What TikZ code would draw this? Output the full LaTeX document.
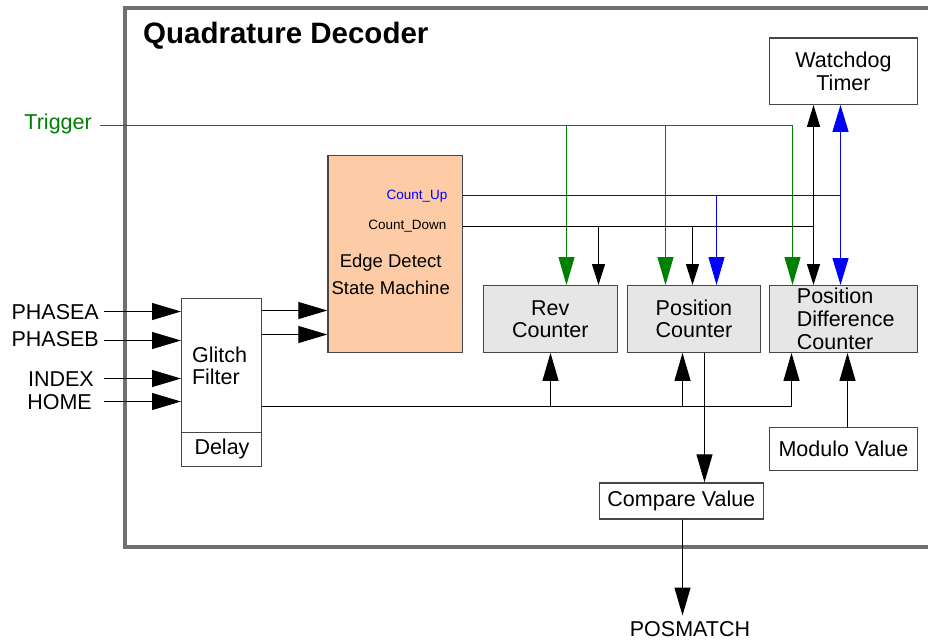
\documentclass[tikz,border=0pt]{standalone}
\usepackage{fontspec}
\setmainfont{Liberation Sans}
\usetikzlibrary{arrows.meta}
\definecolor{framegray}{RGB}{112,112,112}
\definecolor{trig}{RGB}{0,128,0}
\definecolor{peach}{RGB}{253,204,166}
\definecolor{boxgray}{RGB}{230,230,230}
\definecolor{bordergray}{RGB}{70,70,70}
\begin{document}
\begin{tikzpicture}[x=1pt,y=-1pt,
  lbl/.style={font=\fontsize{21.5}{22.5}\selectfont, inner sep=0pt, align=center},
  blk/.style={draw=bordergray, line width=1.2pt, inner sep=0pt, fill=white},
  cnt/.style={blk, fill=boxgray},
  wire/.style={line width=1.1pt, draw=black},
  tw/.style={line width=1.1pt, draw=trig},
  bw/.style={line width=1.1pt, draw=blue},
  big/.style={-{Triangle[length=28pt,width=16pt]}},
  bigin/.style={-{Triangle[length=29pt,width=17pt]}},
  small/.style={-{Triangle[length=21pt,width=13pt]}},
]
\useasboundingbox (0,0) rectangle (928,641);
% frame
\draw[framegray, line width=4pt] (935,8) -- (125,8) -- (125,546.5) -- (935,546.5);
\node[anchor=base west, inner sep=0pt, font=\fontsize{29.5}{30}\selectfont\bfseries] (title) at (143,43) {Quadrature Decoder};

% boxes
\node[blk, minimum width=147.7pt, minimum height=66.4pt, anchor=north west, lbl] (wd) at (769,37.3) {Watchdog\\Timer};
\node[cnt, minimum width=134pt, minimum height=66.7pt, anchor=north west, lbl] (rev) at (482.7,285) {Rev\\Counter};
\node[cnt, minimum width=133.3pt, minimum height=66.7pt, anchor=north west, lbl] (pos) at (626.7,285) {Position\\Counter};
\node[cnt, minimum width=147.7pt, minimum height=66.7pt, anchor=north west] (pdc) at (769,285) {};
\node[lbl, align=left, anchor=west, font=\fontsize{21.5}{23}\selectfont] (pdct) at (796.7,319) {Position\\Difference\\Counter};
\node[blk, fill=peach, minimum width=134.4pt, minimum height=197pt, anchor=north west] (edge) at (327.3,154.7) {};
\node[lbl, font=\fontsize{18.5}{27}\selectfont] (edget) at (390.7,274) {Edge Detect\\State Machine};
\node[anchor=east, inner sep=0pt, font=\fontsize{13.5}{14}\selectfont, text=blue] (cut) at (447.7,195.7) {Count\_Up};
\node[anchor=east, inner sep=0pt, font=\fontsize{13.5}{14}\selectfont] (cdt) at (446.7,226.5) {Count\_Down};
\node[blk, minimum width=80pt, minimum height=168pt, anchor=north west] (gl) at (181,297.7) {};
\draw[bordergray, line width=1.2pt] (gl.west |- 0,432.3) coordinate (dl) -- (gl.east |- 0,432.3) coordinate (dr);
\node[lbl, align=left] (glt) at (219.5,366) {Glitch\\Filter};
\node[lbl] (delay) at (222,449) {Delay};
\node[blk, minimum width=164pt, minimum height=36pt, anchor=north west, lbl] (cmp) at (598.7,482.3) {Compare Value};
\node[blk, minimum width=147.7pt, minimum height=43.3pt, anchor=north west, lbl] (mod) at (769,426.7) {Modulo Value};

% external labels
\node[lbl, anchor=base east, text=trig] (trigt) at (92,129) {Trigger};
\node[lbl, anchor=base east] (pa) at (99,319.3) {PHASEA};
\node[lbl, anchor=base east] (pb) at (99,346.5) {PHASEB};
\node[lbl, anchor=base east] (ix) at (94,386) {INDEX};
\node[lbl, anchor=base east] (hm) at (92,409) {HOME};
\node[lbl, anchor=base, inner ysep=6pt] (posm) at (690,636.7) {POSMATCH};

% input arrows
\coordinate (pas) at (104,311.5);
\coordinate (pbs) at (104,340.5);
\coordinate (ixs) at (104,378.5);
\coordinate (hms) at (104,401.5);
\draw[wire,bigin] (pas) -- (pas -| gl.west);
\draw[wire,bigin] (pbs) -- (pbs -| gl.west);
\draw[wire,bigin] (ixs) -- (ixs -| gl.west);
\draw[wire,bigin] (hms) -- (hms -| gl.west);

% glitch -> edge
\coordinate (g1) at (261,310.5);
\coordinate (g2) at (261,334.5);
\draw[wire,bigin] (g1 -| gl.east) -- (g1 -| edge.west);
\draw[wire,bigin] (g2 -| gl.east) -- (g2 -| edge.west);

% trigger
\coordinate (ts) at (100,125.5);
\coordinate (tj1) at (566.5,125.5);
\coordinate (tj2) at (665.5,125.5);
\coordinate (tj3) at (792.5,125.5);
\draw[tw,big] (ts) -- (tj3) -- (tj3 |- pdc.north);
\draw[tw,big] (tj1) -- (tj1 |- rev.north);
\draw[tw,big] (tj2) -- (tj2 |- pos.north);

% count up
\coordinate (cu) at (461.7,195.5);
\coordinate (cu1) at (716.5,195.5);
\coordinate (cu2) at (840.5,195.5);
\draw[bw] (cu -| edge.east) -- (cu2);
\draw[bw,big] (cu1) -- (cu1 |- pos.north);
\draw[bw,{Triangle[length=27pt,width=16pt]}-{Triangle[length=27pt,width=16pt]}] (cu2 |- wd.south) -- (cu2 |- pdc.north);

% count down
\coordinate (cd) at (461.7,226.5);
\coordinate (cd1) at (598.5,226.5);
\coordinate (cd2) at (692.5,226.5);
\coordinate (cd3) at (813.5,226.5);
\draw[wire] (cd -| edge.east) -- (cd3);
\draw[wire,small] (cd1) -- (cd1 |- rev.north);
\draw[wire,small] (cd2) -- (cd2 |- pos.north);
\draw[wire,{Triangle[length=22pt,width=13pt]}-{Triangle[length=21pt,width=13pt]}] (cd3 |- wd.south) -- (cd3 |- pdc.north);

% bottom bus
\coordinate (bb) at (261,406.5);
\coordinate (bb1) at (550.5,406.5);
\coordinate (bb2) at (682.5,406.5);
\coordinate (bb3) at (791.5,406.5);
\draw[wire,big] (bb -| gl.east) -- (bb3) -- (bb3 |- pdc.south);
\draw[wire,big] (bb1) -- (bb1 |- rev.south);
\draw[wire,big] (bb2) -- (bb2 |- pos.south);

% position -> compare -> posmatch
\coordinate (pc) at (704.5,352);
\draw[wire,big] (pc |- pos.south) -- (pc |- cmp.north);
\coordinate (pm) at (682.5,518);
\draw[wire,big] (pm |- cmp.south) -- (pm |- posm.north);

% modulo -> pdc
\coordinate (mv) at (847.5,426.7);
\draw[wire,big] (mv |- mod.north) -- (mv |- pdc.south);
\end{tikzpicture}
\end{document}
